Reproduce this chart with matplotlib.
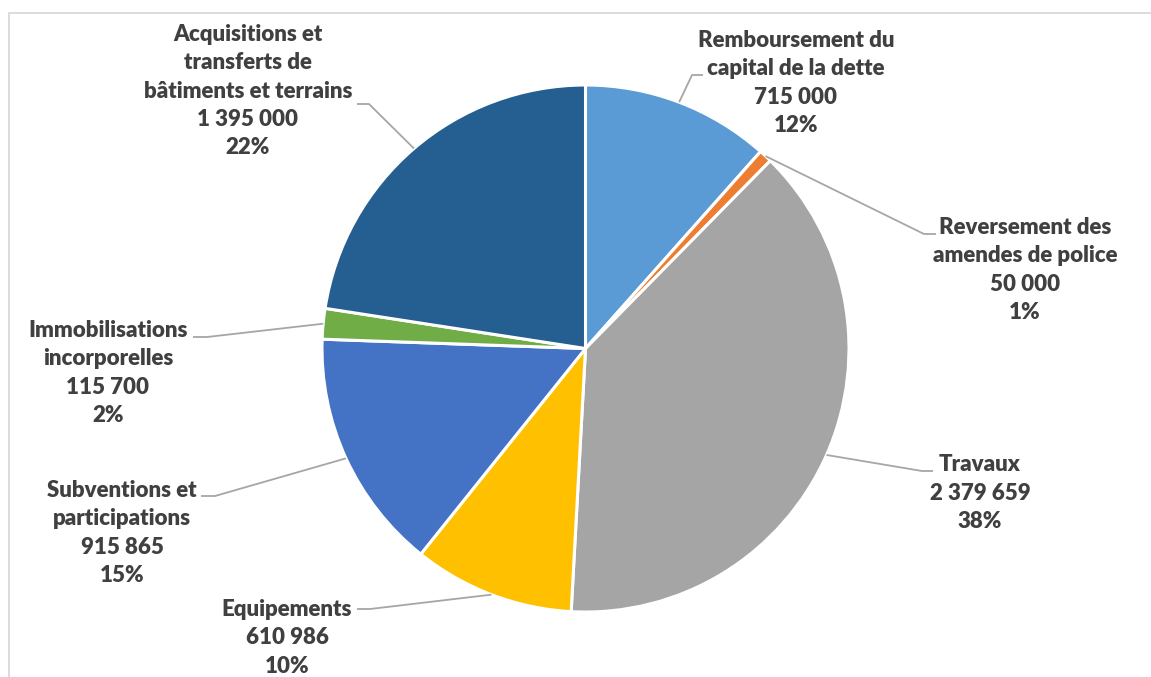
import matplotlib
matplotlib.use("Agg")
import matplotlib.pyplot as plt
from matplotlib.patches import Rectangle
import numpy as np

# Data
categories = [
    "Remboursement du\ncapital de la dette",
    "Reversement des\namendes de police",
    "Travaux",
    "Equipements",
    "Subventions et\nparticipations",
    "Immobilisations\nincorporelles",
    "Acquisitions et\ntransferts de\nbâtiments et terrains",
]
values = [715000, 50000, 2379659, 610986, 915865, 115700, 1395000]
value_labels = ["715 000", "50 000", "2 379 659", "610 986", "915 865", "115 700", "1 395 000"]
pct_labels = ["12%", "1%", "38%", "10%", "15%", "2%", "22%"]
colors = ["#5B9BD5", "#ED7D31", "#A5A5A5", "#FFC000", "#4472C4", "#70AD47", "#255E91"]

# Layout (pixel coordinates, y measured from top)
W, H = 1151, 677
CX, CY, R = 585.5, 348.5, 263.5
label_pos = [(796, 83), (1025, 270), (980, 493), (287, 638), (122, 533), (108, 373), (248, 91)]
elbows = [((692, 75), (703, 75)), ((924, 234), (936, 234)), ((922, 471), (933, 471)),
          ((370, 609), (357, 609)), ((215, 496), (201, 496)), ((207, 337), (193, 337)),
          ((369, 104), (357, 104))]

TEXT = "#404040"
LEAD = "#A6A6A6"

fig = plt.figure(figsize=(W / 100, H / 100), dpi=100)
ax = fig.add_axes([0, 0, 1, 1])

def Y(y):
    return H - y

ax.pie(values, colors=colors, startangle=90, counterclock=False, center=(CX, Y(CY)), radius=R,
       wedgeprops=dict(edgecolor="white", linewidth=2.2), frame=True)
ax.set_xlim(0, W)
ax.set_ylim(0, H)
ax.set_aspect("equal")
ax.axis("off")

# frame
ax.add_patch(Rectangle((9, -20), W + 20, Y(13) + 20, fill=False, edgecolor="#D9D9D9", linewidth=1.3))

total = sum(values)
cum = 0
for i, v in enumerate(values):
    mid = (cum + v / 2) / total
    cum += v
    ang = np.deg2rad(90 - mid * 360)
    sx, sy = CX + R * np.cos(ang), CY - R * np.sin(ang)
    (ex, ey), (tx, ty) = elbows[i]
    ax.plot([sx, ex, tx], [Y(sy), Y(ey), Y(ty)], color=LEAD, linewidth=1.3, solid_capstyle="butt")
    txt = f"{categories[i]}\n{value_labels[i]}\n{pct_labels[i]}"
    lx, ly = label_pos[i]
    ax.text(lx, Y(ly), txt, ha="center", va="center", multialignment="center",
            fontsize=16, fontweight="heavy", color=TEXT, family=["Lato", "DejaVu Sans"],
            linespacing=1.42)

fig.savefig("out.png", dpi=100)
